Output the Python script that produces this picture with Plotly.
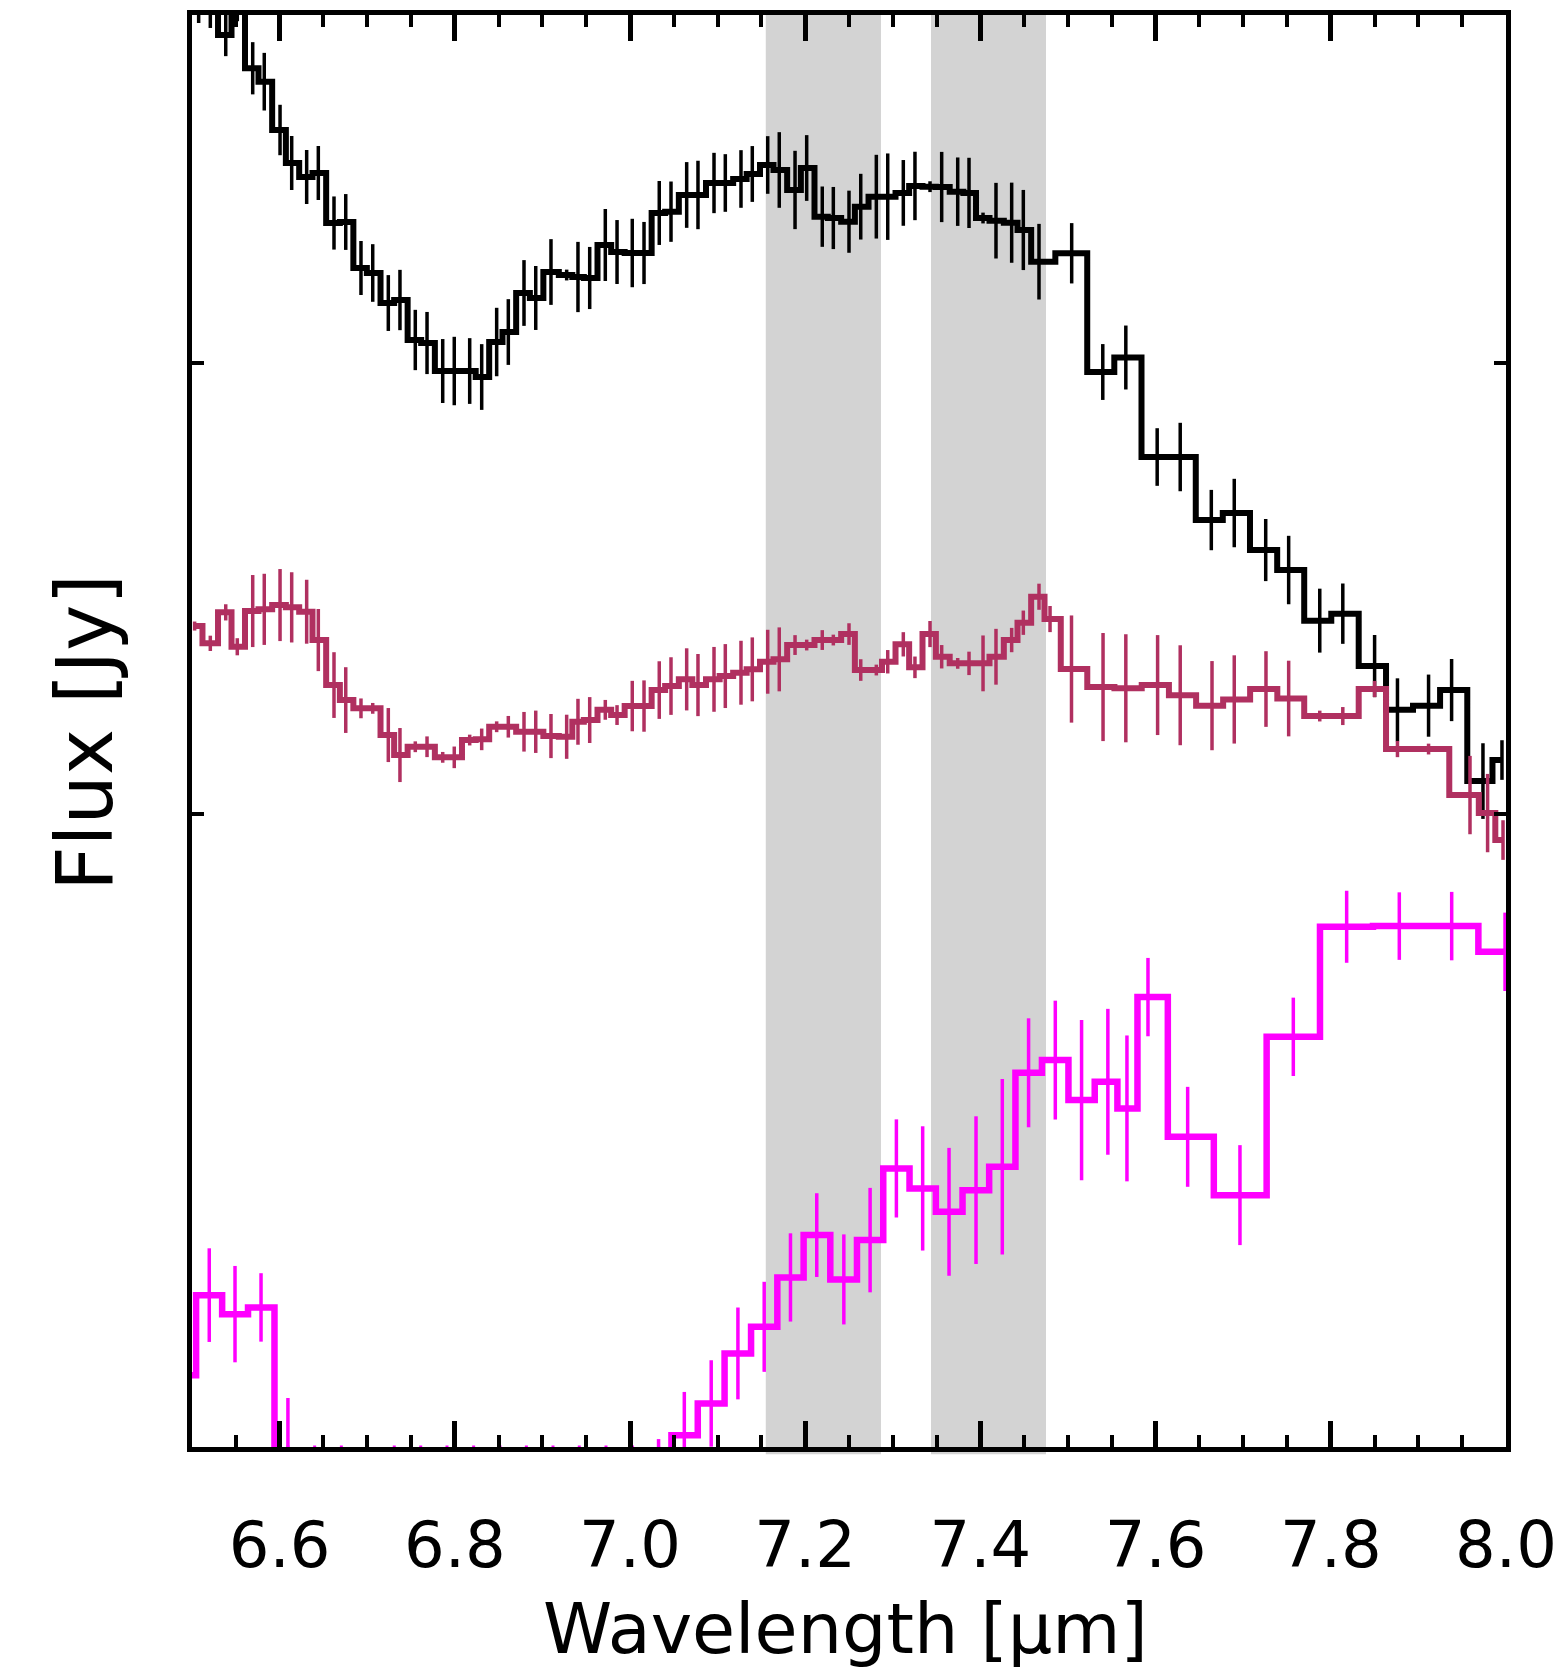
import plotly.graph_objects as go
import numpy as np

# ---------------- data (wavelength in micron, flux in arbitrary Jy units) ----------------
black_x = [6.5076, 6.5209, 6.5385, 6.5517, 6.5693, 6.5825, 6.6005, 6.6138, 6.6309, 6.6442,
           6.6621, 6.6755, 6.6929, 6.7063, 6.7241, 6.7374, 6.7549, 6.7683, 6.7862, 6.7994,
           6.8170, 6.8307, 6.8478, 6.8611, 6.8790, 6.8924, 6.9098, 6.9277, 6.9406, 6.9540,
           6.9718, 6.9852, 7.0026, 7.0160, 7.0334, 7.0468, 7.0647, 7.0776, 7.0959, 7.1088,
           7.1267, 7.1396, 7.1572, 7.1704, 7.1884, 7.2017, 7.2195, 7.2321, 7.2500, 7.2634,
           7.2812, 7.2942, 7.3120, 7.3253, 7.3425, 7.3558, 7.3741, 7.3870, 7.4030, 7.4178,
           7.4357, 7.4490, 7.4669, 7.5042, 7.5397, 7.5660, 7.6018, 7.6281, 7.6636, 7.6898,
           7.7257, 7.7519, 7.7874, 7.8137, 7.8500, 7.8761, 7.9116, 7.9379, 7.9737, 7.9954]
black_y = [2.800, 2.790, 2.7294, 2.800, 2.6555, 2.6257, 2.5184, 2.4451, 2.4140, 2.4229,
           2.3118, 2.3141, 2.2119, 2.2008, 2.1341, 2.1408, 2.0520, 2.0453, 1.9831, 1.9831,
           1.9831, 1.9698, 2.0475, 2.0697, 2.1564, 2.1453, 2.2030, 2.1963, 2.1919, 2.1897,
           2.2630, 2.2474, 2.2452, 2.2452, 2.3341, 2.3370, 2.3741, 2.3741, 2.4007, 2.4007,
           2.4096, 2.4207, 2.4407, 2.4296, 2.3852, 2.4340, 2.3259, 2.3229, 2.3147, 2.3481,
           2.3703, 2.3703, 2.3787, 2.3941, 2.3925, 2.3918, 2.3814, 2.3787, 2.3229, 2.3170,
           2.3125, 2.2963, 2.2259, 2.2446, 1.9809, 2.0131, 1.7921, 1.7921, 1.6521, 1.6677,
           1.5855, 1.5411, 1.4287, 1.4442, 1.3278, 1.2306, 1.2399, 1.2745, 1.0724, 1.1191]
black_err = [0.044, 0.045, 0.047, 0.040, 0.058, 0.064, 0.056, 0.060, 0.060, 0.060,
             0.059, 0.062, 0.060, 0.064, 0.062, 0.067, 0.067, 0.069, 0.071, 0.076,
             0.073, 0.073, 0.076, 0.073, 0.073, 0.071, 0.073, 0.012, 0.078, 0.069,
             0.080, 0.071, 0.076, 0.069, 0.071, 0.067, 0.073, 0.076, 0.067, 0.064,
             0.064, 0.062, 0.064, 0.084, 0.087, 0.073, 0.067, 0.069, 0.069, 0.073,
             0.093, 0.096, 0.073, 0.076, 0.012, 0.078, 0.076, 0.078, 0.012, 0.084,
             0.089, 0.089, 0.084, 0.067, 0.062, 0.071, 0.064, 0.076, 0.067, 0.076,
             0.069, 0.076, 0.071, 0.067, 0.069, 0.070, 0.069, 0.069, 0.084, 0.044]

red_x = [6.5030, 6.5209, 6.5385, 6.5517, 6.5693, 6.5825, 6.6005, 6.6138, 6.6309, 6.6442,
         6.6621, 6.6755, 6.6929, 6.7063, 6.7241, 6.7374, 6.7549, 6.7683, 6.7862, 6.7994,
         6.8170, 6.8307, 6.8478, 6.8611, 6.8790, 6.8924, 6.9098, 6.9277, 6.9406, 6.9540,
         6.9718, 6.9852, 7.0026, 7.0160, 7.0334, 7.0468, 7.0647, 7.0776, 7.0959, 7.1088,
         7.1267, 7.1396, 7.1572, 7.1704, 7.1884, 7.2017, 7.2195, 7.2321, 7.2500, 7.2634,
         7.2812, 7.2942, 7.3120, 7.3253, 7.3425, 7.3558, 7.3741, 7.3870, 7.4030, 7.4178,
         7.4357, 7.4490, 7.4669, 7.4795, 7.5040, 7.5400, 7.5660, 7.6023, 7.6281, 7.6644,
         7.6898, 7.7260, 7.7519, 7.7874, 7.8137, 7.8500, 7.8761, 7.9116, 7.9589, 7.9790,
         7.9966]
red_y = [1.4167, 1.3783, 1.4471, 1.3707, 1.4500, 1.4538, 1.4633, 1.4582, 1.4485, 1.3856,
         1.2856, 1.2523, 1.2339, 1.2339, 1.1746, 1.1302, 1.1486, 1.1486, 1.1251, 1.1251,
         1.1635, 1.1650, 1.1930, 1.1930, 1.1819, 1.1819, 1.1724, 1.1708, 1.2041, 1.2079,
         1.2306, 1.2190, 1.2390, 1.2390, 1.2745, 1.2834, 1.2983, 1.2856, 1.2983, 1.3056,
         1.3130, 1.3205, 1.3374, 1.3427, 1.3745, 1.3745, 1.3856, 1.3856, 1.3989, 1.3190,
         1.3190, 1.3374, 1.3761, 1.3250, 1.3989, 1.3485, 1.3338, 1.3338, 1.3338, 1.3485,
         1.3856, 1.4241, 1.4818, 1.4322, 1.3212, 1.2812, 1.2785, 1.2856, 1.2630, 1.2399,
         1.2537, 1.2768, 1.2557, 1.2168, 1.2168, 1.2768, 1.1435, 1.1435, 1.0413, 1.0013,
         0.9414]
red_err = [0.010, 0.017, 0.018, 0.019, 0.080, 0.079, 0.080, 0.078, 0.071, 0.069,
           0.073, 0.073, 0.022, 0.012, 0.060, 0.060, 0.012, 0.023, 0.012, 0.024,
           0.012, 0.024, 0.012, 0.024, 0.044, 0.047, 0.049, 0.049, 0.051, 0.051,
           0.022, 0.022, 0.056, 0.057, 0.064, 0.064, 0.069, 0.069, 0.072, 0.071,
           0.071, 0.071, 0.071, 0.071, 0.022, 0.012, 0.022, 0.012, 0.024, 0.024,
           0.012, 0.026, 0.027, 0.024, 0.029, 0.026, 0.012, 0.026, 0.062, 0.062,
           0.027, 0.027, 0.029, 0.029, 0.119, 0.120, 0.120, 0.111, 0.111, 0.099,
           0.098, 0.084, 0.084, 0.012, 0.020, 0.018, 0.018, 0.012, 0.087, 0.087,
           0.044]

mag_x = [6.4897, 6.5197, 6.5491, 6.5788, 6.6095, 6.6400, 6.6705, 6.7003, 6.7309, 6.7611,
         6.7911, 6.8215, 6.8516, 6.8817, 6.9121, 6.9421, 6.9726, 7.0029, 7.0326, 7.0620,
         7.0927, 7.1232, 7.1532, 7.1832, 7.2132, 7.2441, 7.2741, 7.3041, 7.3341, 7.3642,
         7.3950, 7.4250, 7.4550, 7.4855, 7.5155, 7.5455, 7.5673, 7.5913, 7.6366, 7.6963,
         7.7572, 7.8181, 7.8782, 7.9380, 7.9989]
mag_y = [-0.2470, -0.0693, -0.1115, -0.0966, -0.4358, -0.52, -0.55, -0.50, -0.58, -0.53,
         -0.56, -0.51, -0.60, -0.54, -0.52, -0.57, -0.53, -0.50, -0.4580, -0.3803,
         -0.3099, -0.1988, -0.1397, -0.0300, 0.0640, -0.0344, 0.0529, 0.2121, 0.1677, 0.1157,
         0.1639, 0.2157, 0.4245, 0.4527, 0.3638, 0.4045, 0.3454, 0.5926, 0.2823, 0.1528,
         0.5044, 0.7488, 0.7503, 0.7503, 0.6932]
mag_err = [0.000, 0.104, 0.107, 0.076, 0.138, 0.050, 0.050, 0.050, 0.050, 0.050,
           0.050, 0.050, 0.050, 0.050, 0.050, 0.050, 0.050, 0.050, 0.069, 0.096,
           0.096, 0.102, 0.100, 0.098, 0.093, 0.100, 0.116, 0.109, 0.138, 0.142,
           0.164, 0.195, 0.121, 0.132, 0.178, 0.162, 0.162, 0.087, 0.111, 0.111,
           0.087, 0.080, 0.075, 0.076, 0.087]

bands = [(7.155, 7.2865), (7.3436, 7.4749)]

x_range = [6.5, 8.0]
x_ticks = [6.6, 6.8, 7.0, 7.2, 7.4, 7.6, 7.8, 8.0]
x_ticklabels = ["6.6", "6.8", "7.0", "7.2", "7.4", "7.6", "7.8", "8.0"]
y_range = [-0.4066, 2.7738]
y_ticks = [1, 2]

BLACK = "#000000"
MAROON = "#B03060"
MAGENTA = "#FF00FF"
FONT = "DejaVu Sans, Liberation Sans, sans-serif"

fig = go.Figure()

for (x0, x1) in bands:
    fig.add_shape(type="rect", xref="x", yref="paper", x0=x0, x1=x1, y0=-0.005, y1=1.0,
                  fillcolor="#D3D3D3", line=dict(width=0), layer="below")


def add_series(xs, ys, errs, color, lw, ew):
    fig.add_trace(go.Scatter(
        x=xs, y=ys, mode="lines", line=dict(color=color, width=lw, shape="hvh"),
        error_y=dict(type="data", array=errs, visible=True, color=color, thickness=ew, width=0),
        showlegend=False, hoverinfo="skip"))


add_series(black_x, black_y, black_err, BLACK, 6, 3.5)
add_series(red_x, red_y, red_err, MAROON, 6, 3.5)
add_series(mag_x, mag_y, mag_err, MAGENTA, 6.5, 3.5)

# points that fall below the plotted range are marked at the bottom edge
mx = np.array(mag_x)
my = np.array(mag_y)
low = (my < y_range[0]) & (mx > x_range[0])
fig.add_trace(go.Scatter(x=mx[low], y=np.full(low.sum(), y_range[0]), mode="markers",
                         marker=dict(symbol="square", size=3, color=MAGENTA),
                         cliponaxis=False, showlegend=False, hoverinfo="skip"))

fig.update_layout(
    width=1553, height=1672,
    margin=dict(l=192, r=47, t=15, b=225, pad=0, autoexpand=False),
    paper_bgcolor="white", plot_bgcolor="white",
    showlegend=False,
    font=dict(family=FONT, color="black"),
)

fig.update_xaxes(
    range=x_range, showgrid=False, zeroline=False, automargin=False,
    showline=True, linecolor="black", linewidth=5, mirror="ticks",
    ticks="inside", ticklen=26, tickwidth=5, tickcolor="black",
    tickvals=x_ticks, ticktext=x_ticklabels, ticklabeloverflow="allow",
    tickfont=dict(size=64, family=FONT, color="black"),
    ticklabelstandoff=38,
    minor=dict(ticks="inside", ticklen=12, tickwidth=4, tickcolor="black", tick0=6.5, dtick=0.05),
)
fig.update_yaxes(
    range=y_range, showgrid=False, zeroline=False, automargin=False,
    showline=True, linecolor="black", linewidth=5, mirror="ticks",
    ticks="inside", ticklen=12, tickwidth=4, tickcolor="black",
    tickvals=y_ticks, showticklabels=False,
)

fig.add_annotation(text="Wavelength [\u03bcm]", xref="paper", yref="paper", x=0.497, y=-0.127,
                   xanchor="center", yanchor="middle", showarrow=False,
                   font=dict(size=70, family=FONT, color="black"))
fig.add_annotation(text="Flux [Jy]", xref="paper", yref="paper", x=-0.0814, y=0.4986,
                   xanchor="center", yanchor="middle", showarrow=False, textangle=-90,
                   font=dict(size=78, family=FONT, color="black"))

fig.write_html("out.html")
